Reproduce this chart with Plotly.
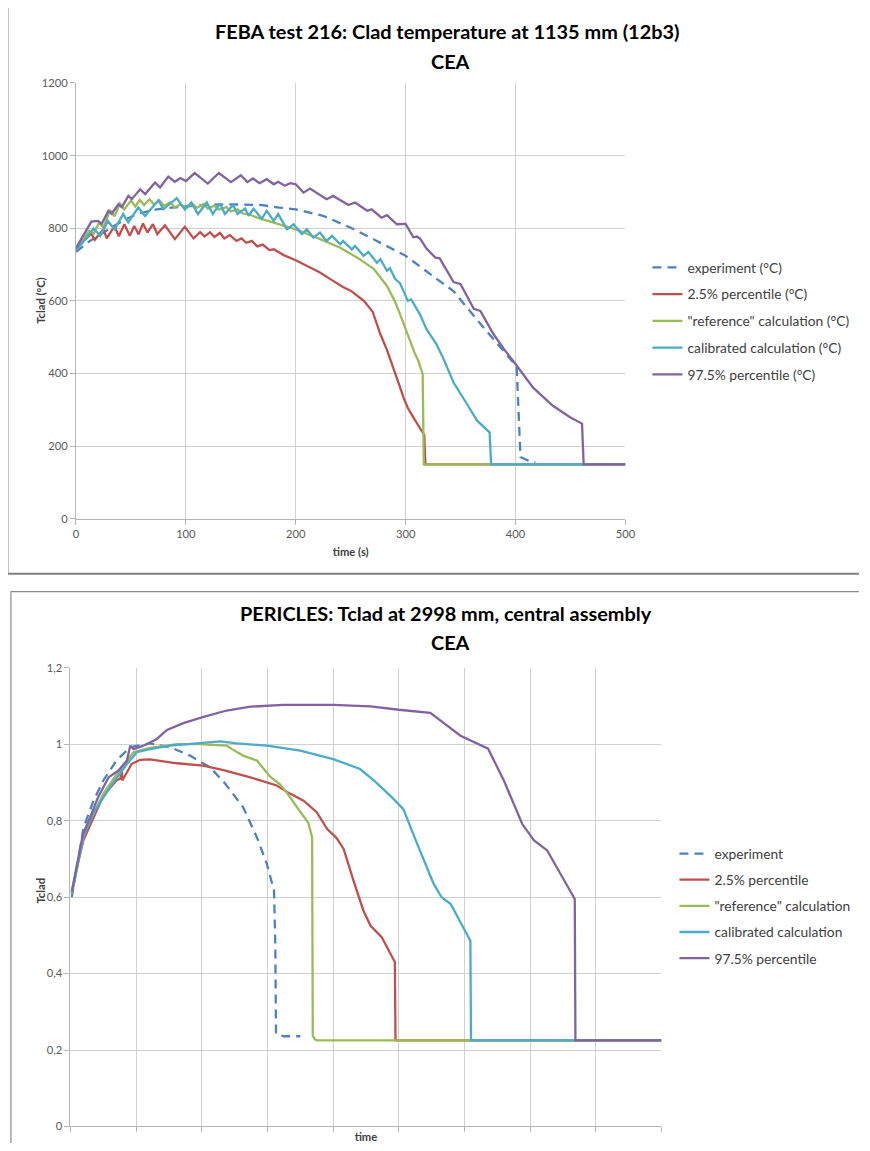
import plotly.graph_objects as go

# The page body keeps the browser's 8px margin, so the figure is 16px smaller than the window
PAGE_W, PAGE_H = 870, 1151
OFF = 8
W, H = PAGE_W - 2 * OFF, PAGE_H - 2 * OFF
FONT = "Lato, Carlito, Calibri, sans-serif"
# measured correction between requested page position and where it shows in the photograph
SX, OX, SY, OY = 0.984, 3.2, 0.989, 6.1

# ---------------- FEBA test 216 (top chart) ----------------
feba_x_ticks = [0, 100, 200, 300, 400, 500]
feba_y_ticks = [0, 200, 400, 600, 800, 1000, 1200]

feba_exp_t = [0, 12.7, 25, 40, 55, 73.5, 95, 116, 137, 158, 168, 185, 200, 225, 249.5, 273.8, 300,
              328.5, 343.5, 368, 386, 398, 401, 403, 404.5, 410, 418]
feba_exp_v = [735, 765, 788, 816, 839, 852, 859, 864, 866, 866, 864, 857, 852, 834, 802, 765, 724,
              660, 627, 537, 471, 430, 420, 300, 170, 162, 155]

feba_p025_t = [0, 8, 14, 17, 25, 28, 35, 39, 44, 49, 53, 57, 61, 65, 70, 74, 81, 90, 99, 107, 113, 117,
               122, 126, 131, 135, 140, 146, 150.6, 155, 160, 165, 170, 176, 180, 189, 200, 210, 222,
               234, 243, 250, 256, 262, 270, 277, 283, 289, 294, 298, 302, 307, 312, 316, 317, 318, 500]
feba_p025_v = [740, 768, 785, 768, 797, 772, 806, 778, 811, 779, 806, 783, 813, 788, 811, 784, 808, 770,
               804, 772, 789, 777, 789, 776, 787, 772, 781, 765, 772, 760, 765, 750, 755, 740, 742, 726,
               712, 697, 678, 655, 638, 628, 615, 600, 570, 508, 465, 416, 370, 334, 305, 279, 255,
               233, 230, 150, 150]

feba_ref_t = [0, 6, 12, 16, 21, 25, 31, 35, 40, 44, 50, 54, 58, 62, 67, 71, 76, 80, 86, 90, 95, 100,
              106, 110, 116, 120, 126, 130, 137, 141, 147, 152, 157, 165, 180, 200, 219, 240, 256, 271,
              283, 290, 295, 300, 304, 308, 311.5, 315.5, 316.5, 500]
feba_ref_v = [740, 765, 793, 785, 815, 802, 850, 833, 868, 852, 876, 860, 878, 864, 880, 865, 877, 862,
              871, 857, 866, 855, 867, 856, 866, 854, 862, 851, 858, 846, 852, 840, 839, 829, 816, 797,
              774, 747, 719, 688, 641, 600, 563, 525, 490, 458, 435, 398, 150, 150]

feba_cal_t = [0, 10, 16, 22, 29, 35, 43, 47.6, 56.7, 62.8, 75, 79.5, 91.7, 99, 105, 111, 119, 124.5,
              131, 135.5, 143, 147, 154, 157, 161.5, 169, 173.6, 180, 184, 192, 198, 205.6, 210, 216,
              222, 228, 233, 240.4, 243, 251, 254, 261.7, 266, 273.8, 277, 283, 285.7, 290.5, 295, 299,
              302, 305, 309, 313, 319, 328, 334.5, 343.6, 355.8, 365, 376.4, 377.8, 500]
feba_cal_v = [740, 775, 800, 779, 820, 797, 839, 816, 857, 834, 877, 852, 883, 852, 871, 839, 871, 839,
              868, 839, 864, 839, 854, 834, 854, 826, 848, 820, 839, 797, 811, 784, 797, 774,
              788, 765, 779, 756, 765, 742, 751, 724, 735, 705, 715, 683, 690, 660, 648, 620,
              600, 604, 585, 563, 522, 481, 440, 375, 316, 270, 238, 150, 150]

feba_p975_t = [0, 8, 14, 20, 23.4, 29.5, 32.5, 38.6, 41.7, 47.7, 50.8, 58.4, 63, 72, 76.5, 84, 90, 95,
               100, 108, 120, 130, 141, 150, 156, 161, 167, 173.6, 180, 184, 190, 195, 200, 207, 213,
               228, 234, 248, 254, 265, 269, 278, 283, 292, 300, 307, 310, 313, 319, 327, 331, 343.6,
               350, 362, 368, 380, 390, 400, 416, 434, 450, 460.5, 462, 500]
feba_p975_v = [745, 785, 818, 820, 812, 848, 840, 866, 858, 889, 880, 907, 894, 926, 912, 942, 928, 938,
               930, 952, 923, 952, 927, 946, 927, 937, 924, 935, 921, 928, 917, 924, 921, 898, 909,
               880, 889, 864, 871, 848, 852, 829, 836, 811, 812, 775, 777, 772, 744, 719, 717, 652,
               646, 578, 572, 508, 465, 426, 361, 311, 279, 262, 150, 150]

# ---------------- PERICLES (bottom chart) ----------------
per_y_ticks = [0, 0.2, 0.4, 0.6, 0.8, 1.0, 1.2]
per_y_ticktext = ["0", "0,2", "0,4", "0,6", "0,8", "1", "1,2"]

per_exp_x = [0.02, 0.1, 0.2, 0.35, 0.5, 0.7, 0.91, 1.21, 1.52, 1.82, 2.13, 2.36, 2.63, 2.84, 2.99,
             3.10, 3.12, 3.13, 3.25, 3.5]
per_exp_v = [0.60, 0.68, 0.782, 0.852, 0.905, 0.957, 0.992, 1.002, 0.992, 0.970, 0.939, 0.896, 0.835,
             0.756, 0.687, 0.617, 0.469, 0.242, 0.236, 0.236]

per_p025_x = [0.02, 0.1, 0.2, 0.32, 0.5, 0.7, 0.76, 0.78, 0.79, 0.93, 1.06, 1.21, 1.62, 2.02, 2.33,
              2.74, 3.14, 3.35, 3.55, 3.75, 3.91, 4.05, 4.16, 4.31, 4.46, 4.57, 4.74, 4.94, 4.95, 9]
per_p025_v = [0.61, 0.68, 0.75, 0.796, 0.865, 0.905, 0.91, 0.935, 0.905, 0.948, 0.959, 0.96, 0.950,
              0.944, 0.932, 0.913, 0.892, 0.87, 0.852, 0.822, 0.778, 0.755, 0.726, 0.643, 0.565,
              0.525, 0.495, 0.43, 0.225, 0.225]

per_ref_x = [0.02, 0.1, 0.2, 0.3, 0.5, 0.7, 0.96, 1.21, 1.62, 1.95, 2.38, 2.46, 2.63, 2.84, 3.04, 3.19,
             3.3, 3.45, 3.55, 3.62, 3.68, 3.69, 3.72, 3.76, 9]
per_ref_v = [0.61, 0.68, 0.76, 0.80, 0.87, 0.92, 0.979, 0.99, 1.0, 1.0, 0.996, 0.987, 0.970, 0.957,
             0.915, 0.895, 0.872, 0.835, 0.81, 0.795, 0.756, 0.238, 0.228, 0.225, 0.225]

per_cal_x = [0.02, 0.1, 0.2, 0.35, 0.6, 0.86, 1.01, 1.21, 1.52, 1.92, 2.28, 2.53, 2.99, 3.5, 4.0, 4.41,
             4.62, 4.9, 5.07, 5.28, 5.53, 5.65, 5.79, 6.09, 6.1, 9]
per_cal_v = [0.61, 0.68, 0.76, 0.82, 0.887, 0.948, 0.979, 0.987, 0.996, 1.002, 1.007, 1.002, 0.996,
             0.983, 0.961, 0.935, 0.905, 0.86, 0.83, 0.739, 0.635, 0.60, 0.582, 0.486, 0.225, 0.225]

per_p975_x = [0.02, 0.1, 0.19, 0.3, 0.42, 0.58, 0.73, 0.86, 0.91, 0.96, 1.11, 1.31, 1.47, 1.72, 2.0,
              2.38, 2.74, 3.24, 4.0, 4.57, 5.0, 5.48, 5.94, 6.36, 6.6, 6.88, 7.06, 7.26, 7.46, 7.68,
              7.69, 9]
per_p975_v = [0.615, 0.69, 0.765, 0.809, 0.861, 0.913, 0.931, 0.957, 0.996, 0.987, 0.996, 1.013, 1.037,
              1.055, 1.070, 1.088, 1.098, 1.103, 1.103, 1.099, 1.09, 1.082, 1.022, 0.988, 0.905,
              0.791, 0.748, 0.722, 0.661, 0.595, 0.225, 0.225]

names_top = ["experiment (°C)", "2.5% percentile (°C)", "\"reference\" calculation (°C)",
             "calibrated calculation (°C)", "97.5% percentile (°C)"]
names_bot = ["experiment", "2.5% percentile", "\"reference\" calculation",
             "calibrated calculation", "97.5% percentile"]
colors = ["#4F81BD", "#C0504D", "#9BBB59", "#4BACC6", "#8064A2"]

top_series = [(feba_exp_t, feba_exp_v), (feba_p025_t, feba_p025_v), (feba_ref_t, feba_ref_v),
              (feba_cal_t, feba_cal_v), (feba_p975_t, feba_p975_v)]
bot_series = [(per_exp_x, per_exp_v), (per_p025_x, per_p025_v), (per_ref_x, per_ref_v),
              (per_cal_x, per_cal_v), (per_p975_x, per_p975_v)]


def px(x, raw=False):
    """target picture x (pixels) -> paper fraction"""
    xp = x if raw else (x - OX) / SX
    return (xp - OFF) / W


def py(y, raw=False):
    """target picture y (pixels) -> paper fraction"""
    yp = y if raw else (y - OY) / SY
    return 1 - (yp - OFF) / H


fig = go.Figure()
for i, ((xs, ys), nm, c) in enumerate(zip(top_series, names_top, colors)):
    fig.add_trace(go.Scatter(
        x=xs, y=ys, mode="lines", name=nm, xaxis="x", yaxis="y", legend="legend",
        legendgroup="t%d" % i,
        line=dict(color=c, width=2.3, dash="9px,6px" if i == 0 else "solid")))
for i, ((xs, ys), nm, c) in enumerate(zip(bot_series, names_bot, colors)):
    fig.add_trace(go.Scatter(
        x=xs, y=ys, mode="lines", name=nm, xaxis="x2", yaxis="y2", legend="legend2",
        legendgroup="b%d" % i,
        line=dict(color=c, width=2.3, dash="9px,6px" if i == 0 else "solid")))

GRID = "#D0D0D0"
AXL = "#B5B5B5"
TICKF = dict(family=FONT, size=11.2, color="#595959")
TITF = dict(family=FONT, size=11.2, color="#404040")
LEGF = dict(family=FONT, size=13.8, color="#404040")

common = dict(showgrid=True, gridcolor=GRID, gridwidth=1, showline=True, linecolor=AXL, linewidth=1,
              ticks="outside", ticklen=5, tickcolor=AXL, zeroline=False, tickfont=TICKF, fixedrange=True)

fig.update_layout(
    width=W, height=H, margin=dict(l=0, r=0, t=0, b=0),
    paper_bgcolor="white", plot_bgcolor="white",
    font=dict(family=FONT, color="#404040"),
    xaxis=dict(domain=[px(76), px(625)], range=[0, 500], tickvals=feba_x_ticks, anchor="y",
               title=dict(text="<b>time (s)</b>", font=TITF, standoff=8), **common),
    yaxis=dict(domain=[py(518), py(82)], range=[0, 1200], tickvals=feba_y_ticks, anchor="x", **common),
    xaxis2=dict(domain=[px(70.5), px(661)], range=[0, 9], dtick=1, tick0=0, showticklabels=False, anchor="y2",
                title=dict(text="<b>time</b>", font=TITF, standoff=4), **common),
    yaxis2=dict(domain=[py(1126), py(667)], range=[0, 1.2], tickvals=per_y_ticks, ticktext=per_y_ticktext,
                anchor="x2", **common),
    legend=dict(x=px(647), y=py(251), xanchor="left", yanchor="top", bgcolor="rgba(0,0,0,0)",
                font=LEGF, tracegroupgap=5.8, itemwidth=30),
    legend2=dict(x=px(674), y=py(837.5), xanchor="left", yanchor="top", bgcolor="rgba(0,0,0,0)",
                 font=LEGF, tracegroupgap=5.2, itemwidth=30),
    showlegend=True,
)

# chart area borders (open on the right and bottom, where the reference is cut off)
BORDER = dict(color="#8C8C8C", width=1.2)
xr = px(869, raw=True)
xl1, yt1, yb1 = px(8), py(6), py(573)
fig.add_shape(type="path", xref="paper", yref="paper", layer="below", line=BORDER,
              path="M %f,%f L %f,%f L %f,%f" % (xr, yt1, xl1, yt1, xl1, yb1))
fig.add_shape(type="line", xref="paper", yref="paper", layer="below", line=dict(color="#7F7F7F", width=2),
              x0=xl1, x1=xr, y0=yb1, y1=yb1)
xl2, yt2, yb2 = px(11), py(591), py(1150, raw=True)
fig.add_shape(type="path", xref="paper", yref="paper", layer="below", line=BORDER,
              path="M %f,%f L %f,%f L %f,%f" % (xr, yt2, xl2, yt2, xl2, yb2))

# chart titles
TF = dict(family=FONT, size=19.9, color="#000000")
for txt, xc, yc in [("FEBA test 216: Clad temperature at 1135 mm (12b3)", 446.5, 30.5), ("CEA", 450, 60),
                    ("PERICLES: Tclad at 2998 mm, central assembly", 446, 612.5), ("CEA", 450, 641.5)]:
    fig.add_annotation(text="<b>%s</b>" % txt, xref="paper", yref="paper", x=px(xc), y=py(yc),
                       xanchor="center", yanchor="middle", showarrow=False, font=TF)

# y axis titles
for txt, xc, yc in [("Tclad (°C)", 41, 300), ("Tclad", 41, 890)]:
    fig.add_annotation(text="<b>%s</b>" % txt, xref="paper", yref="paper", x=px(xc), y=py(yc),
                       xanchor="center", yanchor="middle", textangle=-90, showarrow=False, font=TITF)

fig.write_html("out.html", config={"displayModeBar": False})
